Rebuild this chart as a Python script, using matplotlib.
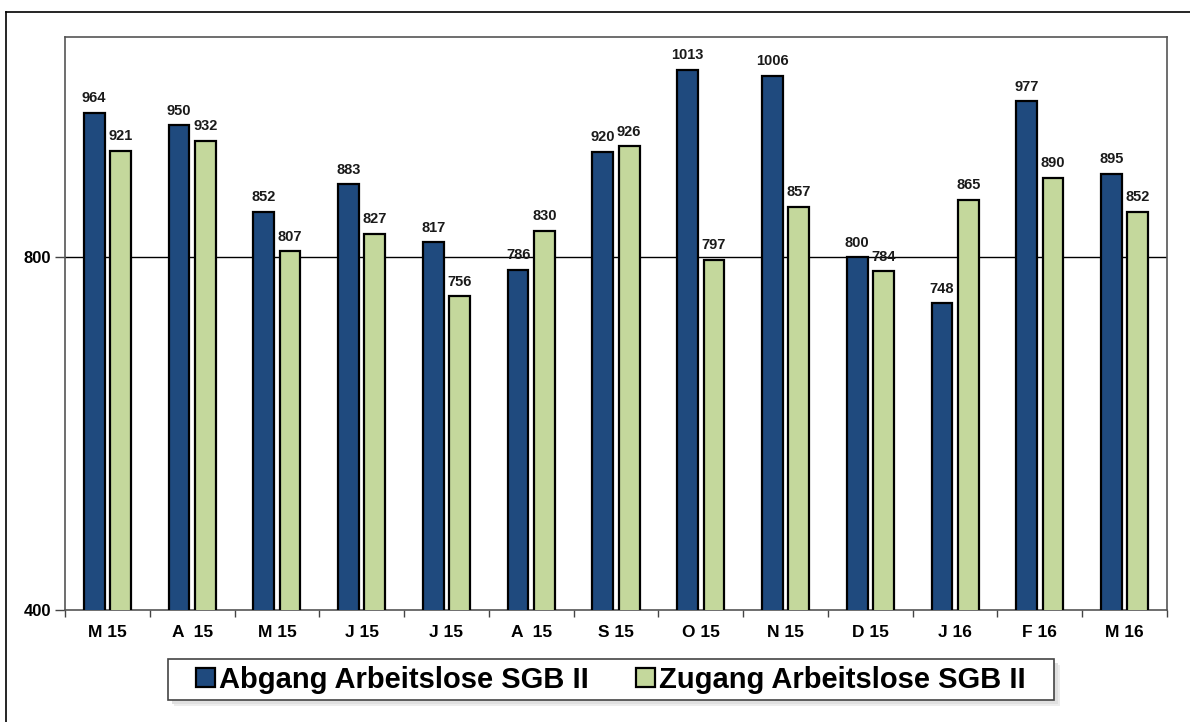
import matplotlib
matplotlib.use("Agg")
import matplotlib.pyplot as plt
import numpy as np
from matplotlib.lines import Line2D
from matplotlib.patches import Rectangle

categories = ["M 15", "A  15", "M 15", "J 15", "J 15", "A  15", "S 15", "O 15", "N 15", "D 15", "J 16", "F 16", "M 16"]
abgang = [964, 950, 852, 883, 817, 786, 920, 1013, 1006, 800, 748, 977, 895]
zugang = [921, 932, 807, 827, 756, 830, 926, 797, 857, 784, 865, 890, 852]
series_names = ["Abgang Arbeitslose SGB II", "Zugang Arbeitslose SGB II"]

BLUE = "#1F4A7E"
GREEN = "#C4D89C"
FONT = ["Liberation Sans", "DejaVu Sans"]
plt.rcParams["font.family"] = FONT

W, H = 1190, 722
fig = plt.figure(figsize=(11.9, 7.22), dpi=100)
ax = fig.add_axes([65/W, 1-610/H, (1167-65)/W, (610-37)/H])

# outer frame
fig.add_artist(Line2D([6/W, 1.0], [1-12/H, 1-12/H], transform=fig.transFigure, color="black", lw=1.2))
fig.add_artist(Line2D([6/W, 6/W], [1-12/H, 0.0], transform=fig.transFigure, color="black", lw=1.2))

x = np.arange(len(categories))
w = 0.245
off = 0.155
b1 = ax.bar(x - off, abgang, w, color=BLUE, edgecolor="black", linewidth=1.6, label=series_names[0], zorder=3)
b2 = ax.bar(x + off, zugang, w, color=GREEN, edgecolor="black", linewidth=1.6, label=series_names[1], zorder=3)

for bars, vals in ((b1, abgang), (b2, zugang)):
    for r, v in zip(bars, vals):
        ax.annotate(str(v), (r.get_x() + r.get_width()/2, v), xytext=(0, 5.5), textcoords="offset points",
                    ha="center", va="bottom", fontsize=10.5, fontweight="bold", color="#1a1a1a")

ax.set_xlim(-0.5, len(categories) - 0.5)
ax.set_ylim(400, 1050)
ax.set_yticks([400, 800])
ax.set_yticklabels(["400", "800"], fontsize=12, fontweight="bold")
ax.axhline(800, color="black", lw=1.0, zorder=1)

ax.set_xticks(x)
ax.set_xticklabels(categories, fontsize=12.5, fontweight="bold")
ax.tick_params(axis="x", length=0, pad=11)
ax.set_xticks(np.arange(-0.5, len(categories)), minor=True)
ax.tick_params(axis="x", which="minor", length=5, width=1, color="#444444", direction="out")
ax.tick_params(axis="y", length=7, width=1, color="#444444", direction="out", pad=3)

for s in ax.spines.values():
    s.set_color("#555555")
    s.set_linewidth(1.2)

# legend box with soft shadow
lx0, lx1, ly0, ly1 = 168, 1054, 659, 700
for d, c in ((6, "0.93"), (4, "0.88")):
    fig.add_artist(Rectangle(((lx0 + d)/W, 1-(ly1 + d)/H), (lx1-lx0)/W, (ly1-ly0)/H,
                             transform=fig.transFigure, facecolor=c, edgecolor="none", zorder=1))
fig.add_artist(Rectangle((lx0/W, 1-ly1/H), (lx1-lx0)/W, (ly1-ly0)/H, transform=fig.transFigure,
                         facecolor="white", edgecolor="#444444", linewidth=1.2, zorder=2))

leg = fig.legend(handles=[b1, b2], labels=series_names, loc="center",
                 bbox_to_anchor=((lx0+lx1)/2/W, 1-(ly0+ly1)/2/H), ncol=2,
                 frameon=False,
                 prop={"family": FONT, "weight": "bold", "size": 21},
                 handlelength=0.65, handleheight=0.65, handletextpad=0.15,
                 columnspacing=1.6, borderpad=0.0, borderaxespad=0)
leg.set_zorder(3)

fig.savefig("out.png", dpi=100)
